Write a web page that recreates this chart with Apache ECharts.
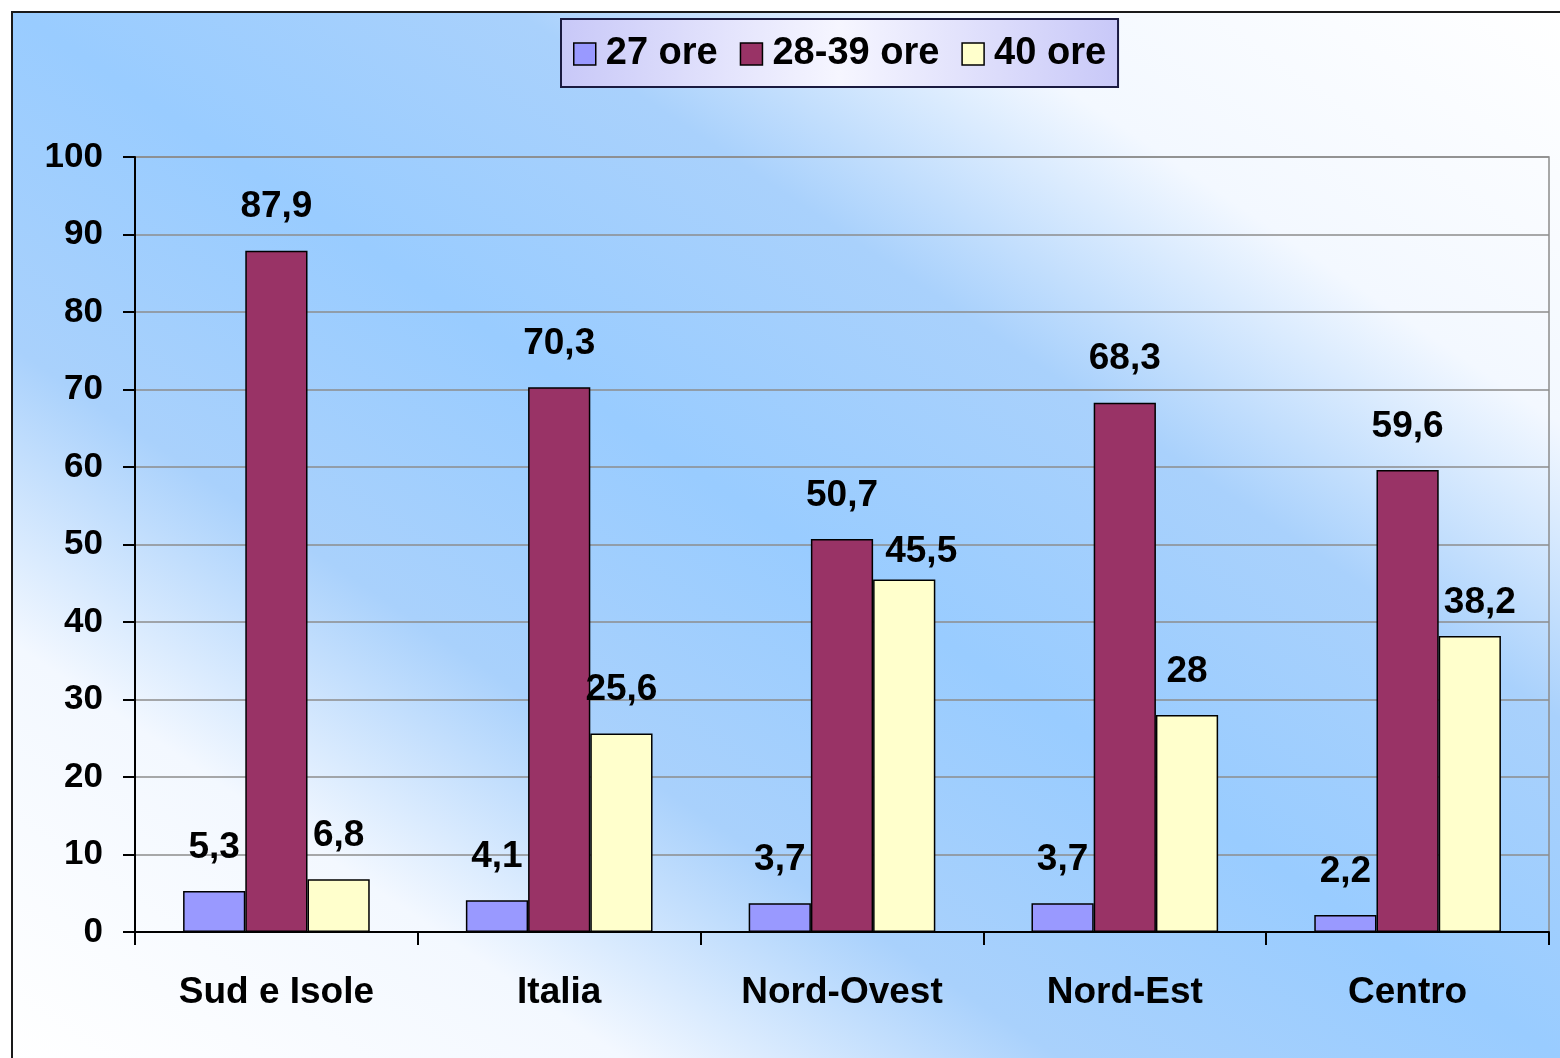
<!DOCTYPE html>
<html>
<head>
<meta charset="utf-8">
<title>Orario settimanale per ripartizione</title>
<script src="https://cdn.jsdelivr.net/npm/echarts@6/dist/echarts.min.js"></script>
<style>
  html, body { margin: 0; padding: 0; background: #ffffff; }
  #chart { width: 1560px; height: 1058px; }
</style>
</head>
<body>
<div id="chart"></div>
<script>
// Regions on the category axis
const categories = ['Sud e Isole', 'Italia', 'Nord-Ovest', 'Nord-Est', 'Centro'];

// Share of schools (%) by weekly hours
const seriesNames = ['27 ore', '28-39 ore', '40 ore'];
const ore27 = [5.3, 4.1, 3.7, 3.7, 2.2];
const ore28_39 = [87.9, 70.3, 50.7, 68.3, 59.6];
const ore40 = [6.8, 25.6, 45.5, 28, 38.2];

// Value axis ticks
const yMin = 0, yMax = 100, yStep = 10;

const FONT = 'Liberation Sans, Arial, Helvetica, sans-serif';
const colors = ['#9999FF', '#993366', '#FFFFCC'];

// Labels nudged apart where two of them would collide
const labelTweaks = {
  '2-2': { distance: 9, offset: [17, 0] },
  '2-4': { distance: 15, offset: [10, 0] }
};

const chart = echarts.init(document.getElementById('chart'), null, { renderer: 'canvas' });

function fmt(v) { return String(v).replace('.', ','); }

function buildSeries(name, values, idx) {
  return {
    name: name,
    type: 'bar',
    barGap: '0%',
    barCategoryGap: '34%',
    itemStyle: { color: colors[idx], borderColor: '#000000', borderWidth: 1.5 },
    label: {
      show: true,
      position: 'top',
      distance: 25,
      color: '#000000',
      fontFamily: FONT,
      fontSize: 37,
      fontWeight: 'bold',
      formatter: p => fmt(p.value)
    },
    data: values.map((v, i) => {
      const t = labelTweaks[idx + '-' + i];
      if (!t) return v;
      return { value: v, label: { distance: t.distance, offset: t.offset } };
    })
  };
}

// Diagonal backdrop: light at the top-right and bottom-left corners, blue along the main diagonal
const W = 1560, H = 1058;
const cx = W / 2, cy = H / 2;
const L = Math.sqrt(W * W + H * H);
const nx = H / L, ny = -W / L;
const reach = (cx * nx + (-cy) * ny);
const bgGradient = new echarts.graphic.LinearGradient(
  cx + nx * reach, cy + ny * reach, cx - nx * reach, cy - ny * reach,
  [
    { offset: 0, color: '#ffffff' },
    { offset: 0.2, color: '#f3f8ff' },
    { offset: 0.34, color: '#a9d1fc' },
    { offset: 0.5, color: '#99ccff' },
    { offset: 0.66, color: '#a9d1fc' },
    { offset: 0.8, color: '#f3f8ff' },
    { offset: 1, color: '#ffffff' }
  ],
  true
);

const option = {
  animation: false,
  graphic: [{
    type: 'rect',
    z: -100,
    silent: true,
    shape: { x: 12, y: 12, width: 1600, height: 1100 },
    style: { fill: bgGradient, stroke: '#1a1a1a', lineWidth: 2 }
  }],
  legend: {
    left: 561,
    top: 19,
    orient: 'horizontal',
    itemWidth: 22,
    itemHeight: 22,
    itemGap: 22,
    padding: [16, 12, 14, 12],
    icon: 'rect',
    borderColor: '#1a1a40',
    borderWidth: 2,
    backgroundColor: new echarts.graphic.LinearGradient(0, 0, 1, 0, [
      { offset: 0, color: '#c8c8f8' },
      { offset: 0.5, color: '#f6f6ff' },
      { offset: 1, color: '#c8c8f8' }
    ]),
    itemStyle: { borderColor: '#000000', borderWidth: 1.5 },
    textStyle: {
      fontFamily: FONT,
      fontSize: 38,
      fontWeight: 'bold',
      color: '#000000',
      padding: [0, 0, 0, 5]
    },
    data: seriesNames
  },
  grid: {
    left: 135,
    right: 11,
    top: 157,
    bottom: 126,
    show: true,
    borderColor: '#8c8c8c',
    borderWidth: 1.5,
    backgroundColor: 'transparent'
  },
  xAxis: {
    type: 'category',
    data: categories,
    axisLine: { lineStyle: { color: '#000000', width: 2 } },
    axisTick: { show: true, length: 13, lineStyle: { color: '#000000', width: 2 } },
    axisLabel: {
      margin: 42,
      color: '#000000',
      fontFamily: FONT,
      fontSize: 37,
      fontWeight: 'bold'
    }
  },
  yAxis: {
    type: 'value',
    min: yMin,
    max: yMax,
    interval: yStep,
    axisLine: { show: true, lineStyle: { color: '#000000', width: 2 } },
    axisTick: { show: true, length: 12, lineStyle: { color: '#000000', width: 2 } },
    axisLabel: {
      margin: 32,
      color: '#000000',
      fontFamily: FONT,
      fontSize: 35,
      fontWeight: 'bold'
    },
    splitLine: { show: true, lineStyle: { color: '#8c8c8c', width: 1.5 } }
  },
  series: [
    buildSeries(seriesNames[0], ore27, 0),
    buildSeries(seriesNames[1], ore28_39, 1),
    buildSeries(seriesNames[2], ore40, 2)
  ]
};

chart.setOption(option);
</script>
</body>
</html>
